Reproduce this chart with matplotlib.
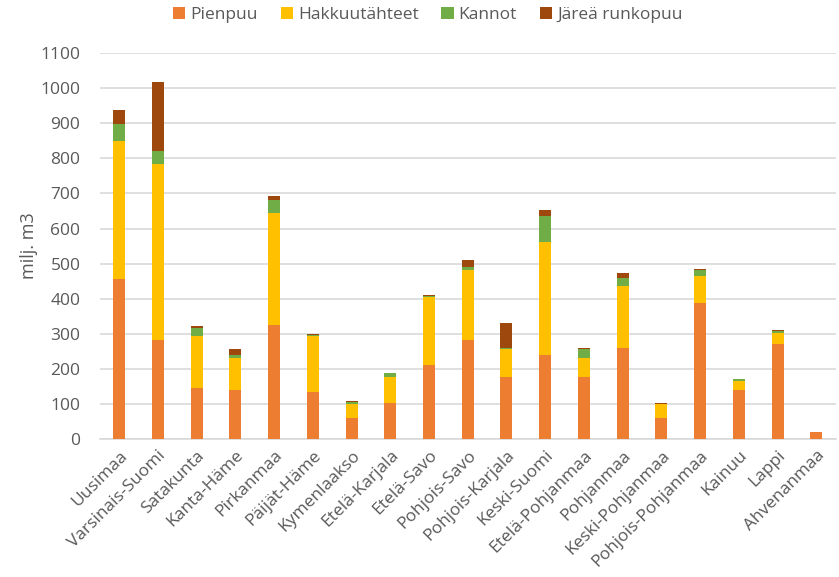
import matplotlib
matplotlib.use("Agg")
import matplotlib.pyplot as plt
import numpy as np

regions = ["Uusimaa", "Varsinais-Suomi", "Satakunta", "Kanta-Häme", "Pirkanmaa",
           "Päijät-Häme", "Kymenlaakso", "Etelä-Karjala", "Etelä-Savo", "Pohjois-Savo",
           "Pohjois-Karjala", "Keski-Suomi", "Etelä-Pohjanmaa", "Pohjanmaa",
           "Keski-Pohjanmaa", "Pohjois-Pohjanmaa", "Kainuu", "Lappi", "Ahvenanmaa"]
pienpuu = [455, 283, 145, 139, 324, 134, 61, 102, 210, 283, 176, 240, 178, 260, 61, 387, 141, 270, 19]
hakkuutahteet = [394, 501, 149, 91, 319, 159, 40, 74, 194, 199, 82, 323, 52, 175, 39, 79, 25, 31, 0]
kannot = [49, 38, 22, 11, 37, 4, 5, 12, 4, 7, 1, 74, 26, 24, 1, 16, 4, 6, 0]
jarea = [41, 196, 6, 16, 13, 3, 3, 1, 4, 21, 73, 15, 4, 15, 1, 4, 2, 5, 0]
series_names = ["Pienpuu", "Hakkuutähteet", "Kannot", "Järeä runkopuu"]
colors = ["#ED7D31", "#FFC000", "#70AD47", "#9E480E"]
yticks = list(range(0, 1101, 100))

plt.rcParams['font.family'] = ['Open Sans', 'DejaVu Sans']
txt = "#595959"

fig = plt.figure(figsize=(8.39, 5.77), dpi=100)
ax = fig.add_axes([0.119, 0.239, 0.877, 0.669])

x = np.arange(len(regions))
bottom = np.zeros(len(regions))
for name, vals, c in zip(series_names, [pienpuu, hakkuutahteet, kannot, jarea], colors):
    v = np.array(vals, dtype=float)
    ax.bar(x, v, bottom=bottom, width=0.31, color=c, label=name, zorder=3)
    bottom += v

ax.set_xlim(-0.5, len(regions) - 0.5)
ax.set_ylim(0, 1100)
ax.set_yticks(yticks)
ax.set_yticklabels([str(t) for t in yticks], fontsize=12.5, color=txt)
ax.set_xticks(x)
ax.set_xticklabels(regions, rotation=45, ha='right', rotation_mode='anchor',
                   fontsize=12.5, color=txt)
ax.tick_params(axis='both', length=0)
ax.tick_params(axis='y', pad=14)
ax.tick_params(axis='x', pad=6)
ax.grid(axis='y', color='#D9D9D9', linewidth=1.2, zorder=0)
for s in ['top', 'right', 'left']:
    ax.spines[s].set_visible(False)
ax.spines['bottom'].set_color('#D9D9D9')
ax.spines['bottom'].set_linewidth(1.2)
ax.set_ylabel("milj. m3", fontsize=13, color=txt, labelpad=2)

fig.legend(loc='center', bbox_to_anchor=(0.51, 0.974), ncol=4, frameon=False,
           fontsize=12.5, handlelength=0.7, handleheight=0.7, handletextpad=0.3,
           columnspacing=1.3, labelcolor=txt)

fig.savefig("out.png", dpi=100)
